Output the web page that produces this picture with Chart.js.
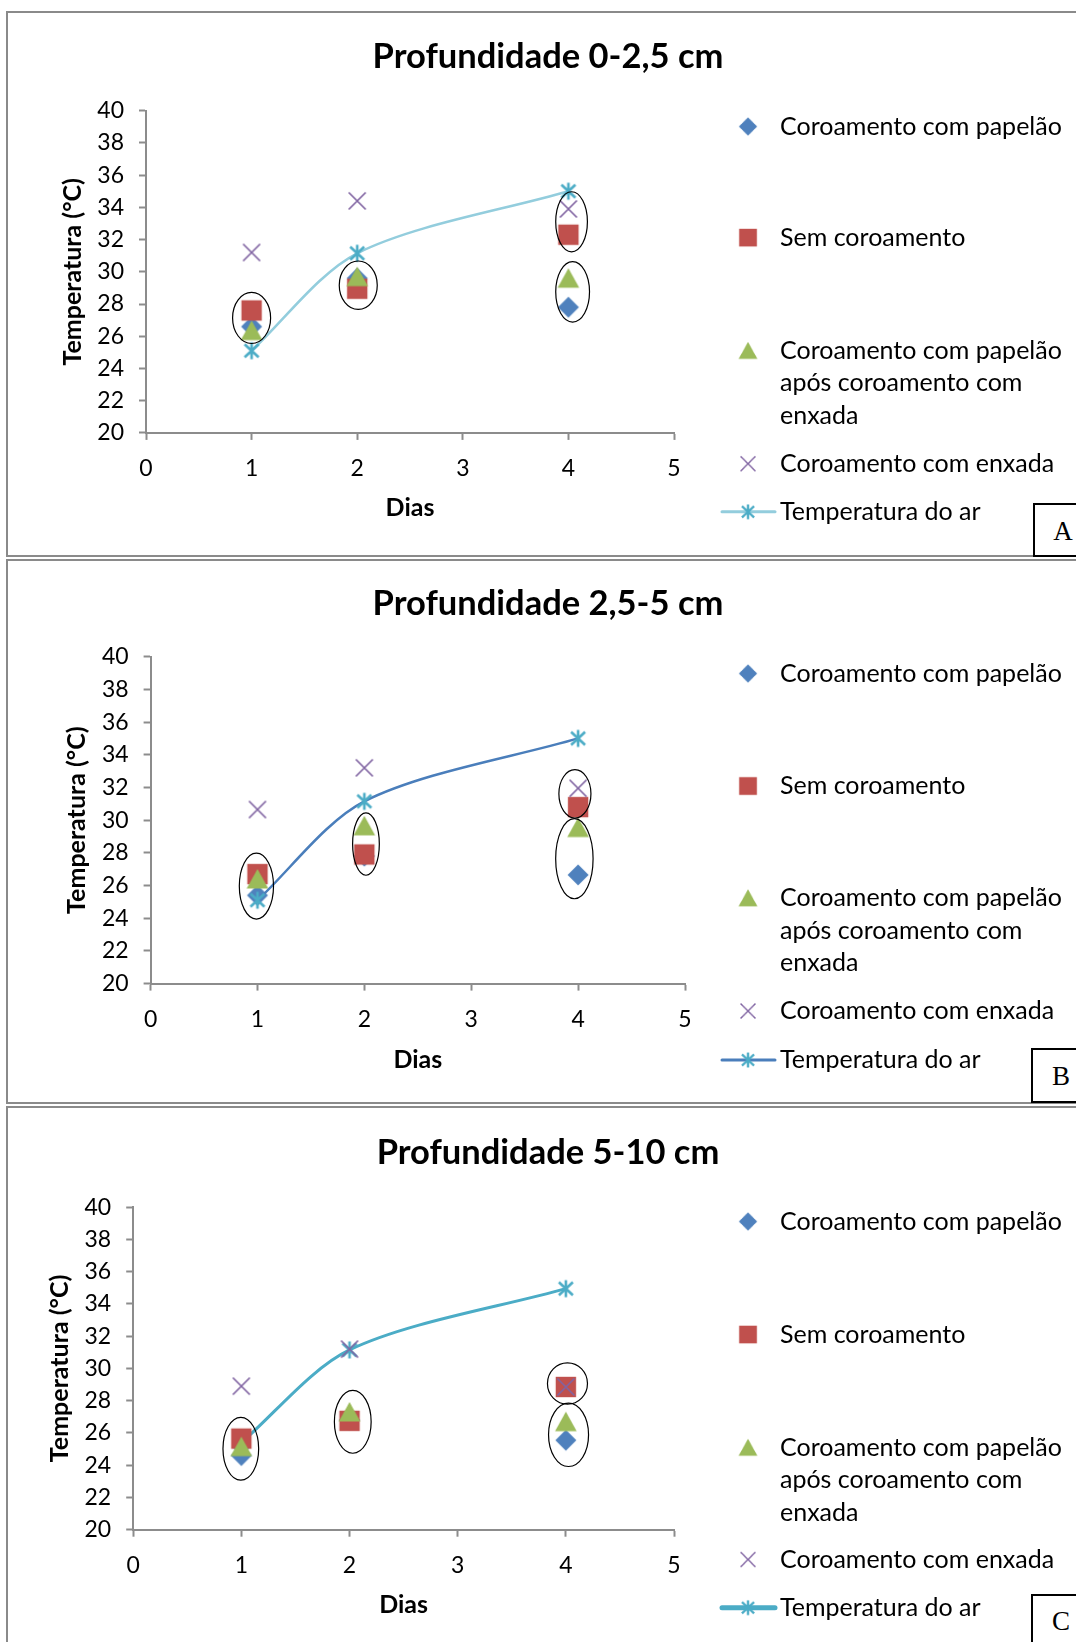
<!DOCTYPE html>
<html>
<head>
<meta charset="utf-8">
<script src="https://cdn.jsdelivr.net/npm/chart.js@4.4.1/dist/chart.umd.min.js"></script>
<style>
  body { margin: 0; background: #fff; width: 1076px; height: 1642px; overflow: hidden; position: relative; }
  .panel { position: absolute; left: 6px; width: 1120px; border: 2px solid #8a8a8a; box-sizing: border-box; }
  .wrap { position: absolute; left: 0; width: 1076px; }
  .tag { position: absolute; width: 60px; border: 2px solid #000; background: #fff; box-sizing: border-box;
         font-family: 'Liberation Serif', serif; font-size: 27px; text-align: center; }
</style>
</head>
<body>
<div class="panel" style="top:11px;height:546px"></div>
<div class="panel" style="top:559px;height:545px"></div>
<div class="panel" style="top:1106px;height:560px"></div>

<div class="wrap" style="top:12px;height:545px"><canvas id="chartA"></canvas></div>
<div class="wrap" style="top:560px;height:543px"><canvas id="chartB"></canvas></div>
<div class="wrap" style="top:1107px;height:535px"><canvas id="chartC"></canvas></div>

<div class="tag" style="left:1033px;top:503px;height:54px;line-height:52px">A</div>
<div class="tag" style="left:1031px;top:1048px;height:55px;line-height:53px">B</div>
<div class="tag" style="left:1031px;top:1594px;height:60px;line-height:50px">C</div>

<script>
// dias de avaliação
const dias = [1, 2, 4];
const xTicks = [0, 1, 2, 3, 4, 5];
const seriesNames = [
  ['Coroamento com papelão'],
  ['Sem coroamento'],
  ['Coroamento com papelão', 'após coroamento com', 'enxada'],
  ['Coroamento com enxada'],
  ['Temperatura do ar']
];

// Profundidade 0-2,5 cm
const papelaoA = [26.6, 29.6, 27.8];
const semA = [27.6, 28.95, 32.3];
const papEnxA = [26.35, 29.7, 29.6];
const enxadaA = [31.2, 34.4, 33.9];
const arA = [25.1, 31.15, 35.0];

// Profundidade 2,5-5 cm
const papelaoB = [25.4, 27.8, 26.65];
const semB = [26.7, 27.9, 30.8];
const papEnxB = [26.4, 29.65, 29.55];
const enxadaB = [30.65, 33.2, 31.95];
const arB = [25.1, 31.15, 35.0];

// Profundidade 5-10 cm
const papelaoC = [24.6, 26.8, 25.55];
const semC = [25.65, 26.75, 28.85];
const papEnxC = [25.15, 27.3, 26.7];
const enxadaC = [28.9, 31.2, 28.85];
const arC = [25.4, 31.15, 34.95];

// ellipses drawn round groups: [dia, min, max, half width in dias]
const circulosA = [[1.0, 25.55, 28.72, 0.18], [2.01, 27.67, 30.67, 0.18], [4.03, 31.24, 34.97, 0.15], [4.04, 26.88, 30.63, 0.16]];
const circulosB = [[0.99, 23.95, 27.98, 0.16], [2.015, 26.63, 30.45, 0.125], [3.97, 30.13, 33.09, 0.15], [3.965, 25.19, 30.09, 0.175]];
const circulosC = [[0.995, 23.07, 26.97, 0.165], [2.03, 24.74, 28.64, 0.17], [4.015, 27.78, 30.35, 0.185], [4.025, 23.92, 27.85, 0.185]];

const axisGray = '#8c8c8c';
const font = 'Lato';

function marker(kind, color) {
  const c = document.createElement('canvas');
  c.width = 26; c.height = 26;
  const g = c.getContext('2d');
  g.translate(13, 13);
  g.fillStyle = color;
  g.strokeStyle = color;
  g.beginPath();
  if (kind === 'diamond') {
    g.moveTo(0, -10.5); g.lineTo(10.5, 0); g.lineTo(0, 10.5); g.lineTo(-10.5, 0); g.closePath(); g.fill();
  } else if (kind === 'square') {
    g.fillRect(-10.2, -10.2, 20.4, 20.4);
  } else if (kind === 'triangle') {
    g.moveTo(0, -10); g.lineTo(10.8, 9.5); g.lineTo(-10.8, 9.5); g.closePath(); g.fill();
  } else if (kind === 'x') {
    g.lineWidth = 1.7;
    g.moveTo(-8.5, -8.5); g.lineTo(8.5, 8.5); g.moveTo(8.5, -8.5); g.lineTo(-8.5, 8.5); g.stroke();
  } else {
    g.lineWidth = 2.6;
    g.moveTo(0, -8.5); g.lineTo(0, 8.5);
    g.moveTo(-7, -6.5); g.lineTo(7, 6.5); g.moveTo(7, -6.5); g.lineTo(-7, 6.5); g.stroke();
  }
  return c;
}

const markers = [
  marker('diamond', '#4F81BD'),
  marker('square', '#C0504D'),
  marker('triangle', '#9BBB59'),
  marker('x', '#8064A2'),
  marker('star', '#4BACC6')
];

const sideLegend = {
  id: 'sideLegend',
  afterDraw(chart, args, o) {
    const ctx = chart.ctx;
    ctx.save();
    ctx.font = '25px ' + font;
    ctx.fillStyle = '#000';
    ctx.textBaseline = 'middle';
    chart.data.datasets.forEach((ds, i) => {
      const y = o.rows[i];
      if (ds.showLine) {
        ctx.beginPath();
        ctx.strokeStyle = ds.borderColor;
        ctx.lineWidth = o.legendLine;
        ctx.lineCap = 'round';
        ctx.moveTo(722, y); ctx.lineTo(775, y);
        ctx.stroke();
      }
      const m = markers[i], s = 0.87;
      ctx.drawImage(m, 748 - m.width * s / 2, y - m.height * s / 2, m.width * s, m.height * s);
      seriesNames[i].forEach((t, j) => ctx.fillText(t, 780, y + j * 32.5));
    });
    ctx.font = 'bold 34.5px ' + font;
    ctx.textAlign = 'center';
    ctx.fillText(o.title, 548, o.titleY);
    ctx.restore();
  }
};

const ellipses = {
  id: 'ellipses',
  afterDatasetsDraw(chart, args, o) {
    const {x, y} = chart.scales;
    const ctx = chart.ctx;
    ctx.save();
    ctx.strokeStyle = '#000';
    ctx.lineWidth = 1.2;
    o.list.forEach(([d, lo, hi, half]) => {
      const cx = x.getPixelForValue(d);
      const rx = x.getPixelForValue(d + half) - cx;
      const top = y.getPixelForValue(hi), bot = y.getPixelForValue(lo);
      ctx.beginPath();
      ctx.ellipse(cx, (top + bot) / 2, rx, (bot - top) / 2, 0, 0, Math.PI * 2);
      ctx.stroke();
    });
    ctx.restore();
  }
};

function makeChart(id, p) {
  const series = [p.papelao, p.sem, p.papEnx, p.enxada, p.ar];
  const datasets = series.map((vals, i) => ({
    label: seriesNames[i].join(' '),
    data: dias.map((d, k) => ({x: d, y: vals[k]})),
    pointStyle: markers[i],
    pointRadius: 10,
    showLine: i === 4,
    borderColor: i === 4 ? p.lineColor : 'transparent',
    borderWidth: i === 4 ? p.lineWidth : 0,
    tension: 0.3,
    // later series on top; in C the air line sits under the markers
    order: (i === 4 && p.arUnder) ? 9 : 5 - i
  }));
  return new Chart(document.getElementById(id), {
    type: 'scatter',
    data: {datasets},
    plugins: [ellipses, sideLegend],
    options: {
      responsive: true,
      maintainAspectRatio: false,
      animation: false,
      events: [],
      layout: {padding: {top: p.top, right: 1076 - p.right, left: 0, bottom: 0}},
      plugins: {
        legend: {display: false},
        tooltip: {enabled: false},
        ellipses: {list: p.circulos},
        sideLegend: {rows: p.rows, title: p.title, titleY: p.titleY, legendLine: p.legendLine}
      },
      scales: {
        x: {
          type: 'linear', min: 0, max: 5,
          afterBuildTicks: s => { s.ticks = xTicks.map(v => ({value: v})); },
          afterFit: s => { s.height = p.h - p.bottom; },
          ticks: {color: '#000', font: {family: font, size: 23}, padding: 15},
          grid: {drawOnChartArea: false, tickLength: 7, tickColor: axisGray, tickWidth: 2},
          border: {color: axisGray, width: 2},
          title: {display: true, text: 'Dias', color: '#000', font: {family: font, size: 25, weight: 'bold'},
                  padding: {bottom: p.xTitlePad}}
        },
        y: {
          min: 20, max: 40,
          afterFit: s => { s.width = p.left; },
          ticks: {stepSize: 2, color: '#000', font: {family: font, size: 23}, padding: 15},
          grid: {drawOnChartArea: false, tickLength: 7, tickColor: axisGray, tickWidth: 2},
          border: {color: axisGray, width: 2},
          title: {display: true, text: 'Temperatura (°C)', color: '#000', font: {family: font, size: 25, weight: 'bold'},
                  padding: {top: p.yTitlePad}}
        }
      }
    }
  });
}

makeChart('chartA', {
  papelao: papelaoA, sem: semA, papEnx: papEnxA, enxada: enxadaA, ar: arA, circulos: circulosA,
  title: 'Profundidade 0-2,5 cm', titleY: 44.5,
  h: 545, left: 146, right: 674, top: 98.7, bottom: 420.9,
  yTitlePad: 58, xTitlePad: 34,
  rows: [114.5, 225.6, 338.6, 451.7, 499.8],
  lineColor: '#93CDDD', lineWidth: 2.5, legendLine: 3
});
makeChart('chartB', {
  papelao: papelaoB, sem: semB, papEnx: papEnxB, enxada: enxadaB, ar: arB, circulos: circulosB,
  title: 'Profundidade 2,5-5 cm', titleY: 44,
  h: 543, left: 150.6, right: 685, top: 96.7, bottom: 423.6,
  yTitlePad: 62, xTitlePad: 28,
  rows: [113.5, 226, 338, 451, 500],
  lineColor: '#4A7EBB', lineWidth: 2.5, legendLine: 3
});
makeChart('chartC', {
  papelao: papelaoC, sem: semC, papEnx: papEnxC, enxada: enxadaC, ar: arC, circulos: circulosC,
  title: 'Profundidade 5-10 cm', titleY: 45.4,
  h: 535, left: 133.2, right: 674, top: 100.2, bottom: 422.7,
  yTitlePad: 44.7, xTitlePad: 22,
  rows: [114.5, 227.5, 340.5, 452.5, 500.7],
  lineColor: '#4BACC6', lineWidth: 3, legendLine: 5, arUnder: true
});
</script>
</body>
</html>
